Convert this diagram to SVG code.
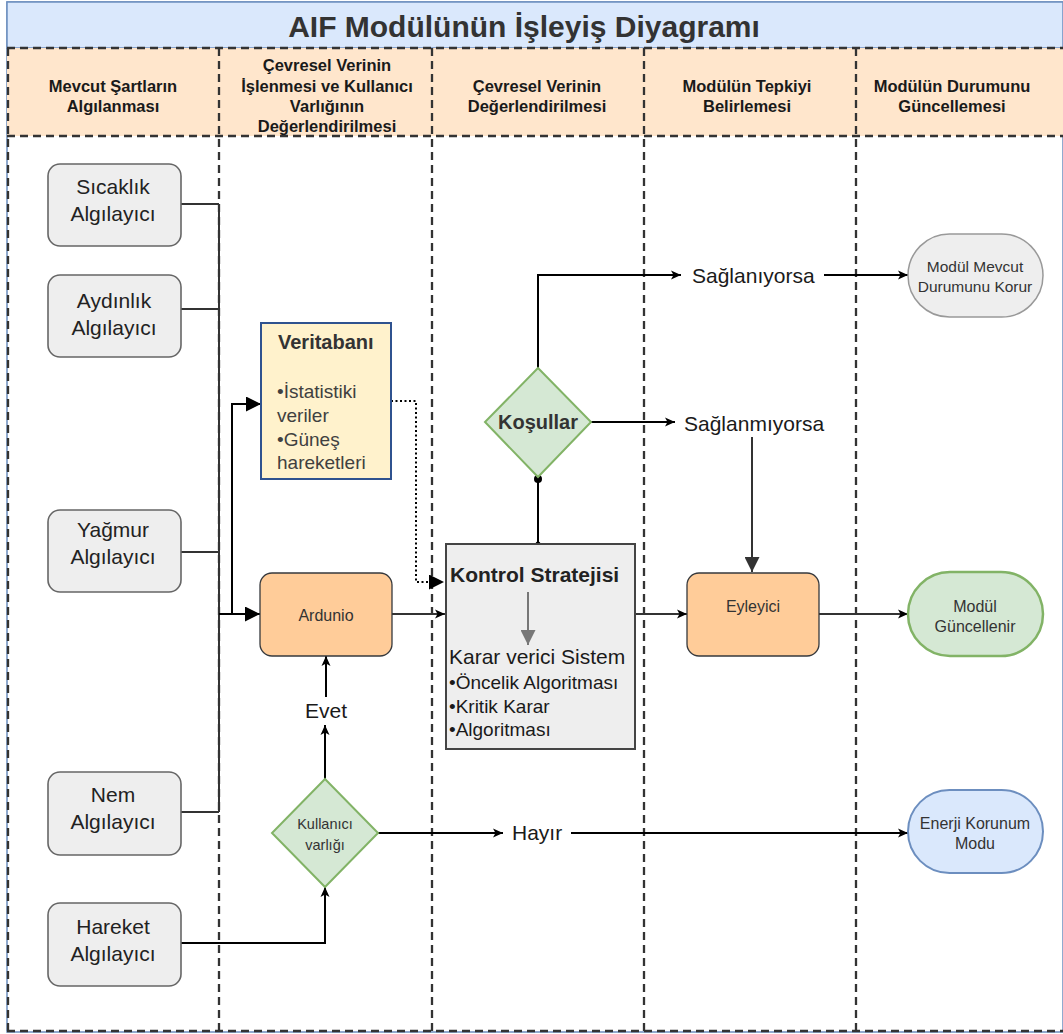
<svg xmlns="http://www.w3.org/2000/svg" width="1063" height="1034" viewBox="0 0 1063 1034">
<style>
text{font-family:"Liberation Sans",Arial,sans-serif;}
.hd{font-size:16.5px;font-weight:bold;fill:#1a1a1a;text-anchor:middle;}
.sn{font-size:21px;fill:#222;text-anchor:middle;}
.lb{font-size:21px;fill:#1a1a1a;}
.dash{stroke:#333;stroke-width:2.3;stroke-dasharray:8 5;fill:none;}
.sensor{fill:#eeeeee;stroke:#666;stroke-width:1.6;}
.orange{fill:#ffcc99;stroke:#36393d;stroke-width:1.3;}
.c{stroke:#000;stroke-width:2;fill:none;}
.cs{stroke:#333;stroke-width:2;fill:none;}
</style>
<defs>
<marker id="a" viewBox="0 0 10 10" refX="10" refY="5" markerWidth="12" markerHeight="10" markerUnits="userSpaceOnUse" orient="auto"><path d="M0,0.5 L10,5 L0,9.5 L2.5,5z" fill="#000"/></marker>
<marker id="big" viewBox="0 0 10 10" refX="10" refY="5" markerWidth="15" markerHeight="15" markerUnits="userSpaceOnUse" orient="auto"><path d="M0,0 L10,5 L0,10z" fill="#000"/></marker>
<marker id="dg" viewBox="0 0 10 10" refX="10" refY="5" markerWidth="17" markerHeight="15" markerUnits="userSpaceOnUse" orient="auto"><path d="M0,0 L10,5 L0,10z" fill="#333"/></marker>
<marker id="gr" viewBox="0 0 10 10" refX="10" refY="5" markerWidth="16" markerHeight="15" markerUnits="userSpaceOnUse" orient="auto"><path d="M0,0 L10,5 L0,10z" fill="#777"/></marker>
</defs>

<g id="pool">
<rect x="7" y="2" width="1056" height="1030" fill="#fff" stroke="#6c8ebf" stroke-width="1.5"/>
<rect x="7" y="2" width="1056" height="46" fill="#dae8fc" stroke="#6c8ebf" stroke-width="1.5"/>
<text x="524" y="37" font-size="30" font-weight="bold" fill="#333" text-anchor="middle">AIF Modülünün İşleyiş Diyagramı</text>
<rect x="7" y="48" width="1056" height="88" fill="#ffe6cc"/>
<line class="dash" x1="7" y1="48" x2="1063" y2="48"/>
<line class="dash" x1="7" y1="136" x2="1063" y2="136"/>
<line class="dash" x1="7" y1="1031" x2="1063" y2="1031"/>
<line class="dash" x1="8" y1="48" x2="8" y2="1031"/>
<line class="dash" x1="219" y1="48" x2="219" y2="1031"/>
<line class="dash" x1="432" y1="48" x2="432" y2="1031"/>
<line class="dash" x1="644" y1="48" x2="644" y2="1031"/>
<line class="dash" x1="856" y1="48" x2="856" y2="1031"/>
</g>

<g id="headers">
<text class="hd" x="113" y="92">Mevcut Şartların</text>
<text class="hd" x="113" y="112">Algılanması</text>
<text class="hd" x="327" y="71">Çevresel Verinin</text>
<text class="hd" x="327" y="91.5">İşlenmesi ve Kullanıcı</text>
<text class="hd" x="327" y="112">Varlığının</text>
<text class="hd" x="327" y="132">Değerlendirilmesi</text>
<text class="hd" x="537" y="92">Çevresel Verinin</text>
<text class="hd" x="537" y="112">Değerlendirilmesi</text>
<text class="hd" x="747" y="92">Modülün Tepkiyi</text>
<text class="hd" x="747" y="112">Belirlemesi</text>
<text class="hd" x="952" y="92">Modülün Durumunu</text>
<text class="hd" x="952" y="112">Güncellemesi</text>
</g>

<g id="connectors">
<path class="cs" d="M181,204 H219 M181,309 H219 M181,552 H219 M181,812 H219 M219,204 V812"/>
<path class="c" d="M219,614 H260" marker-end="url(#big)"/>
<path class="c" d="M232,614 V404 H261" marker-end="url(#big)"/>
<path d="M391,401 H416 V582 H444" fill="none" stroke="#000" stroke-width="2" stroke-dasharray="2 2.5" marker-end="url(#big)"/>
<path class="cs" d="M392,614 H445" marker-end="url(#a)"/>
<path class="c" d="M538,544 V478"/>
<circle cx="538" cy="479" r="4" fill="#000"/>
<circle cx="538" cy="544" r="2.5" fill="#000"/>
<path class="c" d="M538,368 V275 H681" marker-end="url(#a)"/>
<path class="c" d="M824,275 H908" marker-end="url(#a)"/>
<path class="c" d="M591,422 H675" marker-end="url(#a)"/>
<path d="M752,437 V572" stroke="#333" stroke-width="2" fill="none" marker-end="url(#dg)"/>
<path class="cs" d="M635,614 H687" marker-end="url(#a)"/>
<path class="cs" d="M819,614 H908" marker-end="url(#a)"/>
<path class="c" d="M181,943 H325 V887" marker-end="url(#a)"/>
<path class="c" d="M325,779 V725" marker-end="url(#a)"/>
<path class="c" d="M326,697 V656" marker-end="url(#a)"/>
<path class="c" d="M378,833 H503" marker-end="url(#a)"/>
<path class="c" d="M571,833 H908" marker-end="url(#a)"/>
<text class="lb" x="692" y="283">Sağlanıyorsa</text>
<text class="lb" x="684" y="431">Sağlanmıyorsa</text>
<text class="lb" x="326" y="718" text-anchor="middle">Evet</text>
<text class="lb" x="512" y="840">Hayır</text>
</g>

<g id="sicaklik"><rect class="sensor" x="48" y="164" width="133" height="82" rx="12"/><text class="sn" x="113" y="194">Sıcaklık</text><text class="sn" x="113" y="221">Algılayıcı</text></g>
<g id="aydinlik"><rect class="sensor" x="48" y="275" width="133" height="82" rx="12"/><text class="sn" x="114" y="308">Aydınlık</text><text class="sn" x="114" y="335">Algılayıcı</text></g>
<g id="yagmur"><rect class="sensor" x="48" y="510" width="133" height="82" rx="12"/><text class="sn" x="113" y="537">Yağmur</text><text class="sn" x="113" y="564">Algılayıcı</text></g>
<g id="nem"><rect class="sensor" x="48" y="772" width="133" height="83" rx="12"/><text class="sn" x="113" y="802">Nem</text><text class="sn" x="113" y="829">Algılayıcı</text></g>
<g id="hareket"><rect class="sensor" x="48" y="903" width="133" height="83" rx="12"/><text class="sn" x="113" y="934">Hareket</text><text class="sn" x="113" y="961">Algılayıcı</text></g>

<g id="veritabani">
<rect x="261" y="323" width="130" height="156" fill="#fff2cc" stroke="#2f528f" stroke-width="2"/>
<text x="278" y="349" font-size="20" font-weight="bold" fill="#333">Veritabanı</text>
<text x="277" y="398" font-size="19" fill="#404040">•İstatistiki</text>
<text x="277" y="422" font-size="19" fill="#404040">veriler</text>
<text x="277" y="446" font-size="19" fill="#404040">•Güneş</text>
<text x="277" y="469" font-size="19" fill="#404040">hareketleri</text>
</g>

<g id="ardunio"><rect class="orange" x="260" y="573" width="132" height="83" rx="12"/><text x="326" y="621" font-size="16" fill="#333" text-anchor="middle">Ardunio</text></g>

<g id="kontrol">
<rect x="446" y="544" width="189" height="205" fill="#eeeeee" stroke="#444" stroke-width="2"/>
<text x="450" y="582" font-size="21" font-weight="bold" fill="#222">Kontrol Stratejisi</text>
<path d="M528,592 V645" stroke="#777" stroke-width="2" fill="none" marker-end="url(#gr)"/>
<text x="449" y="664" font-size="21" fill="#1a1a1a">Karar verici Sistem</text>
<text x="449" y="689" font-size="19" fill="#1a1a1a">•Öncelik Algoritması</text>
<text x="449" y="713" font-size="19" fill="#1a1a1a">•Kritik Karar</text>
<text x="449" y="736" font-size="19" fill="#1a1a1a">•Algoritması</text>
</g>

<g id="kosullar"><polygon points="538,368 591,422 538,477 485,422" fill="#d5e8d4" stroke="#82b366" stroke-width="2"/><text x="538" y="429" font-size="20" font-weight="bold" fill="#333" text-anchor="middle">Koşullar</text></g>

<g id="eyleyici"><rect class="orange" x="687" y="573" width="132" height="83" rx="12"/><text x="753" y="612" font-size="16" fill="#333" text-anchor="middle">Eyleyici</text></g>

<g id="kullanici"><polygon points="325,779 378,833 325,887 272,833" fill="#d5e8d4" stroke="#82b366" stroke-width="2"/><text x="325" y="829" font-size="14.5" fill="#333" text-anchor="middle">Kullanıcı</text><text x="325" y="850" font-size="14.5" fill="#333" text-anchor="middle">varlığı</text></g>

<g id="korur"><rect x="908" y="234" width="135" height="83" rx="41.5" fill="#eeeeee" stroke="#999" stroke-width="1.5"/><text x="975" y="272" font-size="15.5" fill="#333" text-anchor="middle">Modül Mevcut</text><text x="975" y="292" font-size="15.5" fill="#333" text-anchor="middle">Durumunu Korur</text></g>

<g id="guncellenir"><rect x="908" y="572" width="135" height="84" rx="42" fill="#d5e8d4" stroke="#82b366" stroke-width="2.5"/><text x="975" y="612" font-size="16" fill="#333" text-anchor="middle">Modül</text><text x="975" y="632" font-size="16" fill="#333" text-anchor="middle">Güncellenir</text></g>

<g id="enerji"><rect x="908" y="790" width="135" height="83" rx="41.5" fill="#dae8fc" stroke="#6c8ebf" stroke-width="2"/><text x="975" y="829" font-size="16" fill="#333" text-anchor="middle">Enerji Korunum</text><text x="975" y="849" font-size="16" fill="#333" text-anchor="middle">Modu</text></g>
</svg>
